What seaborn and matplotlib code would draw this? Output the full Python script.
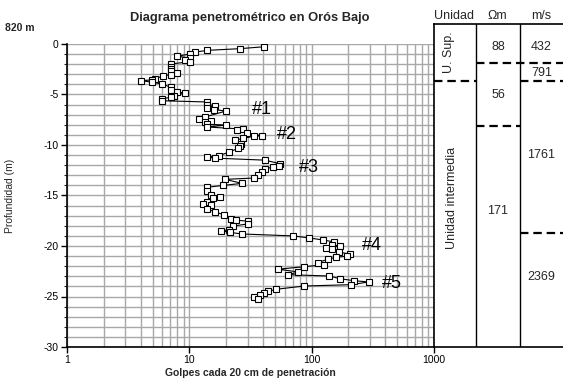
import matplotlib
matplotlib.use("Agg")
import matplotlib.pyplot as plt
import numpy as np
import pandas as pd
import seaborn as sns
from matplotlib.ticker import MultipleLocator, LogLocator, NullFormatter

sns.set_theme(style="white")
plt.rcParams["font.family"] = ["Liberation Sans", "DejaVu Sans"]
plt.rcParams["axes.unicode_minus"] = False

# Penetration profile: depth below surface (m) and blow count per 20 cm
profundidad = [0.27, 0.46, 0.63, 0.80, 1.00, 1.20, 1.40, 1.60, 1.75, 1.98,
               2.24, 2.45, 2.64, 2.84, 3.04, 3.17, 3.43, 3.55, 3.63, 3.78,
               3.96, 4.29, 4.55, 4.75, 4.85, 5.10, 5.28, 5.41, 5.62, 5.74,
               6.00, 6.10, 6.30, 6.50, 6.63, 7.23, 7.43, 7.62, 7.75, 7.95,
               8.02, 8.22, 8.42, 8.55, 8.81, 9.08, 9.14, 9.34, 9.54, 9.93,
               10.13, 10.33, 10.70, 11.06, 11.20, 11.30, 11.50, 11.85, 12.05, 12.18,
               12.38, 12.64, 12.97, 13.27, 13.40, 13.80, 14.00, 14.19, 14.52, 14.92,
               15.18, 15.25, 15.64, 15.84, 15.97, 16.30, 16.63, 16.90, 17.30, 17.43,
               17.55, 17.82, 18.02, 18.42, 18.48, 18.65, 18.81, 19.00, 19.20, 19.40,
               19.60, 19.87, 20.00, 20.20, 20.33, 20.60, 20.80, 21.00, 21.12, 21.30,
               21.65, 21.85, 22.05, 22.30, 22.57, 22.84, 22.97, 23.24, 23.43, 23.56,
               23.83, 23.96, 24.29, 24.50, 24.65, 24.85, 25.00, 25.25]
golpes = [41, 26, 14, 11.2, 10.1, 8.0, 10.1, 9.2, 10.1, 7.05,
          7.05, 7.05, 7.05, 8.0, 7.05, 6.05, 5.27, 4.95, 4.05, 4.95,
          6.0, 7.05, 7.05, 8.0, 9.2, 7.5, 7.1, 6.0, 6.0, 14,
          14, 16.3, 14, 15.9, 20, 13.4, 12.1, 15, 13.4, 14,
          20, 14, 27.3, 24.4, 29.4, 39.2, 33.8, 27.3, 23.7, 26.3,
          26, 25, 21.2, 17.4, 13.9, 16.1, 41.5, 55.1, 54, 48.2,
          41.5, 39.2, 36.3, 33.8, 19.7, 26.9, 18.9, 14, 13.9, 15.1,
          17.9, 15.5, 13.9, 13, 14.9, 14, 16.1, 19.2, 22.1, 24,
          30.1, 29.9, 22.9, 21, 18.1, 21.5, 26.9, 70.5, 95, 123,
          153, 147, 171, 132, 146, 166, 205, 196, 159, 135,
          113, 125, 87, 53, 78, 64.3, 139, 171, 220, 292,
          210, 87, 50.9, 44, 40.5, 38, 33.8, 36.5]

# Hard-layer labels
tramos = ["#1", "#2", "#3", "#4", "#5"]
tramo_golpes = [39, 63, 95, 312, 454]
tramo_prof = [6.5, 9.0, 12.2, 20.0, 23.7]

# Geophysical column
encabezados = ["Unidad", "Ωm", "m/s"]
unidades = ["U. Sup.", "Unidad intermedia"]
resistividad = [88, 56, 171]
velocidad = [432, 791, 1761, 2369]

df = pd.DataFrame({"golpes": golpes, "prof": -np.array(profundidad)})

W, H = 563, 380
fig = plt.figure(figsize=(W / 100, H / 100), dpi=100)
fig.patch.set_facecolor("white")

# main penetrometer axes (pixel box 67..434 x 44..347)
ax = fig.add_axes([67 / W, 1 - 347 / H, (434 - 67) / W, (347 - 44) / H])
ax.set_facecolor("white")
ax.set_xscale("log")
ax.set_xlim(1, 1000)
ax.set_ylim(-30, 0)

grid_kw = dict(color="#a8a8a8", linewidth=1.0)
ax.xaxis.set_major_locator(LogLocator(base=10, numticks=10))
ax.xaxis.set_minor_locator(LogLocator(base=10, subs=np.arange(2, 10), numticks=20))
ax.xaxis.set_minor_formatter(NullFormatter())
ax.yaxis.set_major_locator(MultipleLocator(5))
ax.yaxis.set_minor_locator(MultipleLocator(1))
ax.grid(True, which="both", axis="both", **grid_kw)
ax.set_axisbelow(True)

sns.lineplot(data=df, x="golpes", y="prof", sort=False, estimator=None,
             color="black", linewidth=0.8, marker="s", markersize=4.6,
             markerfacecolor="white", markeredgecolor="black",
             markeredgewidth=0.8, ax=ax, legend=False)

ax.set_xticks([1, 10, 100, 1000])
ax.set_xticklabels(["1", "10", "100", "1000"])
ax.set_yticks([0, -5, -10, -15, -20, -25, -30])
ax.set_yticklabels(["0", "-5", "-10", "-15", "-20", "-25", "-30"])
ax.tick_params(axis="both", which="major", labelsize=7.5, colors="black",
               length=4, width=1, direction="out", pad=2)
ax.tick_params(axis="y", which="minor", length=2.5, width=0.8, direction="out",
               left=True)
ax.tick_params(axis="x", which="minor", length=0)
ax.tick_params(axis="x", which="major", bottom=True)
ax.tick_params(axis="y", which="major", left=True)

for s in ["top", "right"]:
    ax.spines[s].set_visible(False)
for s in ["left", "bottom"]:
    ax.spines[s].set_color("black")
    ax.spines[s].set_linewidth(1.2)

ax.set_xlabel("Golpes cada 20 cm de penetración", fontsize=7.5,
              fontweight="bold", va="center")
ax.xaxis.set_label_coords(0.5, -(373 - 347) / 303)
ax.set_ylabel("Profundidad (m)", fontsize=7.5, va="center")
ax.yaxis.set_label_coords(-(67 - 10) / 367, 0.5)

for lab, gx, gp in zip(tramos, tramo_golpes, tramo_prof):
    ax.text(gx, -gp, lab, fontsize=13, ha="center", va="center", color="black")

fig.text(250 / W, 1 - 18 / H, "Diagrama penetrométrico en Orós Bajo",
         fontsize=9.3, fontweight="bold", ha="center", va="center")
fig.text(5 / W, 1 - 28 / H, "820 m", fontsize=7.5, fontweight="bold",
         ha="left", va="center")

# geophysical column (pixel box 434..563 x 24..347), y in metres
ax2 = fig.add_axes([434 / W, 1 - 347 / H, (563 - 434) / W, (347 - 24) / H])
ax2.set_facecolor("none")
ax2.set_xlim(0, 129)
ax2.set_ylim(-30, 20 / 10.1)
ax2.set_xticks([])
ax2.set_yticks([])
ax2.spines["right"].set_visible(False)
for s in ["left", "top", "bottom"]:
    ax2.spines[s].set_color("black")
    ax2.spines[s].set_linewidth(1.2)

for cx in [42, 86]:
    ax2.axvline(cx, color="black", linewidth=1.0)

dash = dict(color="black", linewidth=1.6, dashes=(3.8, 2.2))
ax2.plot([42, 129], [-1.85, -1.85], **dash)
ax2.plot([0, 42], [-3.66, -3.66], **dash)
ax2.plot([86, 129], [-3.66, -3.66], **dash)
ax2.plot([42, 86], [-8.12, -8.12], **dash)
ax2.plot([86, 129], [-18.7, -18.7], **dash)

top_m = 28 / 10.1
for hx, h in zip([20, 63, 107.5], encabezados):
    ax2.text(hx, top_m, h, fontsize=9, ha="center", va="center", clip_on=False)

ax2.text(15, -0.84, unidades[0], rotation=90, fontsize=9, ha="center", va="center")
ax2.text(18, -15.2, unidades[1], rotation=90, fontsize=9, ha="center", va="center")

for v, yp in zip(resistividad, [-0.27, -5.05, -16.5]):
    ax2.text(64, yp, str(v), fontsize=9, ha="center", va="center")
for v, yp in zip(velocidad, [-0.27, -2.84, -11.0, -23.1]):
    ax2.text(107.5, yp, str(v), fontsize=9, ha="center", va="center")

fig.savefig("out.png", dpi=100, facecolor="white")
